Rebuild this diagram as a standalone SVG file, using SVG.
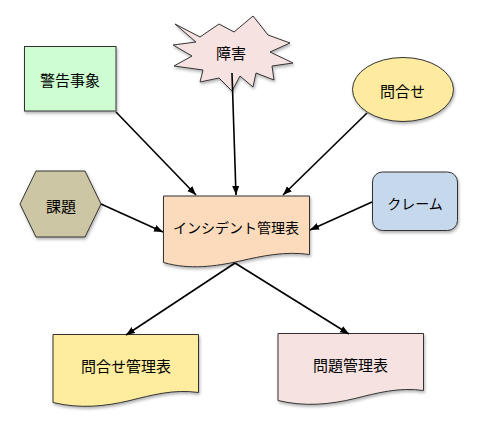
<svg xmlns="http://www.w3.org/2000/svg" width="481" height="427" viewBox="0 0 481 427">
<defs>
<filter id="sh" x="-20%" y="-20%" width="140%" height="140%">
<feDropShadow dx="1" dy="2" stdDeviation="1.5" flood-color="#000" flood-opacity="0.3"/>
</filter>
<marker id="ah" markerUnits="userSpaceOnUse" markerWidth="10" markerHeight="8" refX="9" refY="3.5" orient="auto">
<path d="M0,0 L9,3.5 L0,7 Z" fill="#000"/>
</marker>
</defs>
<style>
.shape{stroke:#333;stroke-width:1;filter:url(#sh)}
.lbl{font-family:"Noto Sans CJK JP","Noto Sans",sans-serif;font-size:15px;fill:#000;text-anchor:middle;dominant-baseline:central}
.conn line{stroke:#000;stroke-width:1.6;marker-end:url(#ah)}
</style>
<rect width="481" height="427" fill="#fff"/>
<g id="keikoku">
<rect class="shape" x="24.5" y="46.5" width="91.5" height="64.5" fill="#cdfdd0"/>
<text class="lbl" x="70" y="79">警告事象</text>
</g>
<g id="shougai">
<polygon class="shape" fill="#f6e2e1" points="175,24 200,37 219,24 234,32 253,16 268,35 290,43 270,52 293,63 272,66 274,80 256,73 253,87 240,76 232,91 219,78 200,82 203,70 174,66 192,56 173,45 196,42"/>
<text class="lbl" x="231" y="52">障害</text>
</g>
<g id="toiawase">
<ellipse class="shape" cx="403" cy="89.5" rx="50.5" ry="32" fill="#feeb9f"/>
<text class="lbl" x="402.5" y="90.5">問合せ</text>
</g>
<g id="kadai">
<polygon class="shape" fill="#ccc6a4" points="20,204 36,171 85,171 101,204 85,237 36,237"/>
<text class="lbl" x="61" y="205">課題</text>
</g>
<g id="claim">
<rect class="shape" x="372.5" y="172" width="85" height="58.5" rx="10" fill="#c6d8ec"/>
<text class="lbl" x="415" y="202.5" font-size="14" style="font-size:14px">クレーム</text>
</g>
<g id="incident">
<path class="shape" fill="#fcdbbd" d="M163.5,196 H309.5 V254.5 C285,251 262,256 240,261 C215,266.5 190,270 163.5,262.5 Z"/>
<text class="lbl" x="236" y="226.5" style="font-size:14px">インシデント管理表</text>
</g>
<g id="toiawase-kanri">
<path class="shape" fill="#feec9f" d="M53,334.5 H198.5 V392.5 C174,389 152,395 130,400.5 C105,406.5 80,409 53,402.5 Z"/>
<text class="lbl" x="126" y="365.5">問合せ管理表</text>
</g>
<g id="mondai-kanri">
<path class="shape" fill="#f6e2e1" d="M278,333.5 H423.5 V390.5 C399,387 377,393 355,398.5 C330,404.5 305,407 278,400.5 Z"/>
<text class="lbl" x="350.5" y="364.5">問題管理表</text>
</g>
<g id="connectors" class="conn">
<line x1="116" y1="112" x2="196" y2="195"/>
<line x1="232" y1="73" x2="236" y2="195"/>
<line x1="367" y1="113" x2="283" y2="195"/>
<line x1="101" y1="204" x2="163" y2="232"/>
<line x1="372" y1="202" x2="310" y2="230"/>
<line x1="235" y1="263" x2="126" y2="335"/>
<line x1="235" y1="263" x2="349" y2="334"/>
</g>
</svg>
